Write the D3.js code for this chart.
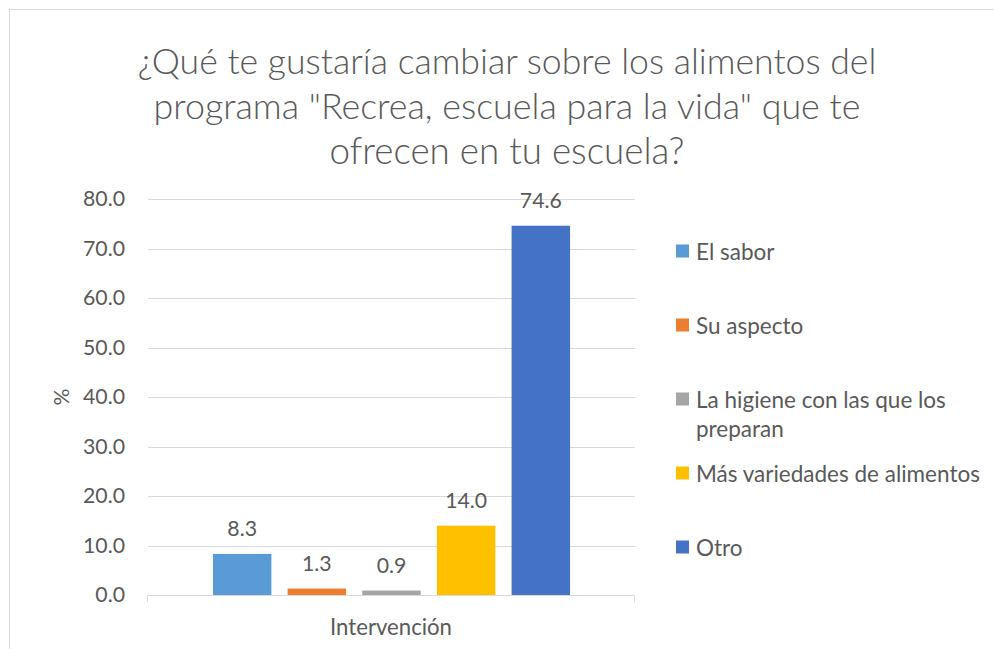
<!DOCTYPE html>
<html><head><meta charset="utf-8">
<script src="https://cdn.jsdelivr.net/npm/d3@7"></script>
<style>
html,body{margin:0;padding:0;background:#fff;}
svg{display:block;}
text{font-family:Lato,"Open Sans",sans-serif;fill:#595959;}
</style></head>
<body>
<svg id="chart" width="994" height="649"></svg>
<script>
const titleLines = ["¿Qué te gustaría cambiar sobre los alimentos del", "programa \"Recrea, escuela para la vida\" que te", "ofrecen en tu escuela?"];
const categories = ["El sabor", "Su aspecto", "La higiene con las que los preparan", "Más variedades de alimentos", "Otro"];
const legendLines = [["El sabor"], ["Su aspecto"], ["La higiene con las que los", "preparan"], ["Más variedades de alimentos"], ["Otro"]];
const values = [8.3, 1.3, 0.9, 14.0, 74.6];
const colors = ["#5B9BD5", "#ED7D31", "#A5A5A5", "#FFC000", "#4472C4"];
const yTicks = [0, 10, 20, 30, 40, 50, 60, 70, 80];
const xLabel = "Intervención";
const yLabel = "%";

const svg = d3.select("#chart");

function fit(sel, target) {
  sel.each(function(){
    const el = this;
    const fs = parseFloat(el.getAttribute("font-size"));
    const w = el.getComputedTextLength();
    if (w > 0) el.setAttribute("font-size", (fs * target / w).toFixed(2));
  });
}

// outer border
svg.append("rect").attr("x", 9.5).attr("y", 9.5).attr("width", 1100).attr("height", 800)
  .attr("fill", "none").attr("stroke", "#d9d9d9").attr("stroke-width", 1);

// title
const titleWidths = [739, 707, 355];
const titleY = [60, 105, 150];
titleLines.forEach((t, i) => {
  const el = svg.append("text").attr("x", 507).attr("y", titleY[i])
    .attr("text-anchor", "middle").attr("dominant-baseline", "central")
    .attr("font-weight", 300)
    .attr("font-size", 32).text(t);
  fit(el, titleWidths[i]);
});

const x = d3.scaleBand().domain(categories).range([148, 635]).paddingInner(0.217).paddingOuter(0.87);
const y = d3.scaleLinear().domain([0, 80]).range([595, 199]);

// gridlines
svg.append("g").selectAll("line").data(yTicks.filter(d => d > 0)).join("line")
  .attr("x1", 148).attr("x2", 635)
  .attr("y1", d => Math.round(y(d)) + 0.5).attr("y2", d => Math.round(y(d)) + 0.5)
  .attr("stroke", "#d9d9d9").attr("stroke-width", 1);

// y tick labels
const yAxis = svg.append("g").attr("transform", "translate(125,0)")
  .call(d3.axisLeft(y).tickValues(yTicks).tickFormat(d3.format(".1f")).tickSize(0).tickPadding(0));
yAxis.select(".domain").remove();
yAxis.selectAll("text").attr("font-size", 19).attr("fill", "#595959")
  .style("font-family", "Lato, 'Open Sans', sans-serif");
fit(yAxis.selectAll(".tick:last-of-type text"), 42);
const tfs = yAxis.select(".tick:last-of-type text").attr("font-size");
yAxis.selectAll("text").attr("font-size", tfs);

// bars
svg.append("g").selectAll("rect").data(values).join("rect")
  .attr("x", (d, i) => x(categories[i]))
  .attr("width", x.bandwidth())
  .attr("y", d => y(d))
  .attr("height", d => y(0) - y(d))
  .attr("fill", (d, i) => colors[i]);

// data labels
svg.append("g").selectAll("text").data(values).join("text")
  .attr("x", (d, i) => x(categories[i]) + x.bandwidth() / 2)
  .attr("y", d => y(d) - 26)
  .attr("text-anchor", "middle").attr("dominant-baseline", "central")
  .attr("font-size", tfs).text(d => d.toFixed(1));

// x axis baseline
svg.append("path").attr("d", "M147.5,602V595.5H634.5V602")
  .attr("fill", "none").attr("stroke", "#d9d9d9").attr("stroke-width", 1);

// axis titles
const xl = svg.append("text").attr("x", 391).attr("y", 626).attr("text-anchor", "middle")
  .attr("dominant-baseline", "central").attr("font-size", 19).text(xLabel);
fit(xl, 122);
svg.append("text").attr("transform", "translate(61,397) rotate(-90)").attr("text-anchor", "middle")
  .attr("dominant-baseline", "central").attr("font-size", tfs).text(yLabel);

// legend
const legY = [251, 325, 399, 473, 547];
const leg = svg.append("g");
let legFs = 19;
legendLines.forEach((lines, i) => {
  leg.append("rect").attr("x", 676).attr("y", legY[i] - 6.5).attr("width", 13).attr("height", 13).attr("fill", colors[i]);
  lines.forEach((ln, j) => {
    leg.append("text").attr("class", "lt" + (i === 3 ? " ref" : ""))
      .attr("x", 696).attr("y", legY[i] + j * 29)
      .attr("dominant-baseline", "central").attr("font-size", legFs).text(ln);
  });
});
fit(leg.select(".ref"), 284);
legFs = leg.select(".ref").attr("font-size");
leg.selectAll("text").attr("font-size", legFs);
</script>
</body></html>
